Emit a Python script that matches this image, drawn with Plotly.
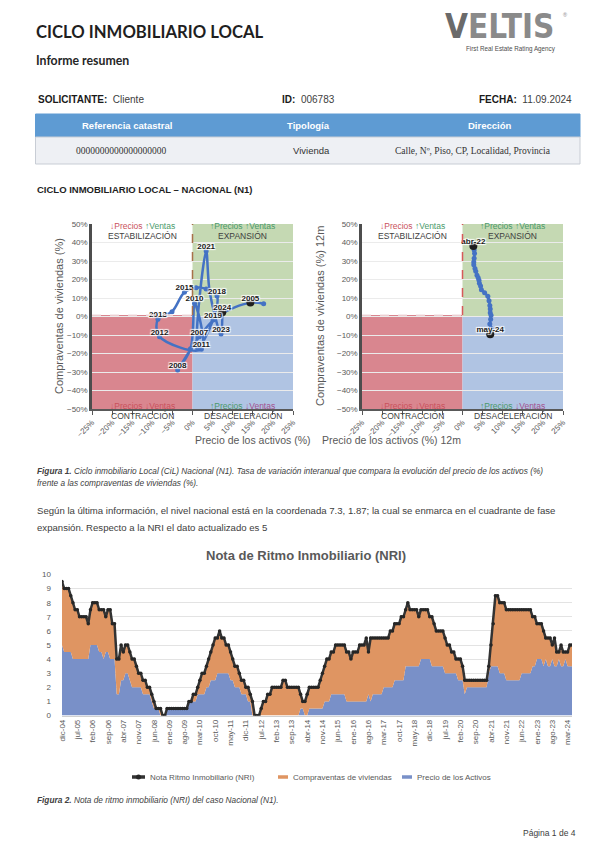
import plotly.graph_objects as go

# page body has an 8px margin: the figure is drawn into the remaining window area
OFF = 8
FW, FH = 600 - OFF, 849 - OFF
def X(px): return (px - OFF) / FW
def Y(py): return 1 - (py - OFF) / FH

FONT = "Liberation Sans"
GRAY = "#595959"
DARK = "#262626"

# ---------------- Figura 1 (izquierda): ciclo anual ----------------
cil_years = [2004, 2005, 2006, 2007, 2008, 2009, 2010, 2011, 2012, 2013, 2014,
             2015, 2016, 2017, 2018, 2019, 2020, 2021, 2022, 2023, 2024]
cil_precio = [17.7, 14.4, 6.5, 1.7, -3.7, -0.5, 0.5, 2.2, -8.2, -8.6, -5.1,
              -2.0, 0.9, 3.4, 6.1, 5.1, 1.3, 3.4, 4.3, 7.1, 7.4]
cil_compra = [6.9, 7.5, 0.5, -10.9, -28.9, -17.5, 7.1, -17.7, -10.9, -1.5, 2.6,
              13.1, 15.6, 14.9, 11.1, -1.9, -17.2, 35.4, 13.0, -9.5, 2.3]
cil_labeled = [2005, 2007, 2008, 2010, 2011, 2012, 2013, 2015, 2018, 2019, 2021, 2023, 2024]
cil_highlight = [2005, 2024]

# ---------------- Figura 1 (derecha): ciclo 12 meses ----------------
m12_labels = ["abr-22", "may-22", "jun-22", "jul-22", "ago-22", "sep-22", "oct-22",
              "nov-22", "dic-22", "ene-23", "feb-23", "mar-23", "abr-23", "may-23",
              "jun-23", "jul-23", "ago-23", "sep-23", "oct-23", "nov-23", "dic-23",
              "ene-24", "feb-24", "mar-24", "abr-24", "may-24"]
m12_precio = [2.7, 2.9, 3.0, 2.9, 2.8, 2.8, 3.1, 3.3, 3.6, 3.9, 4.1, 4.2, 4.5,
              4.7, 5.5, 6.3, 6.6, 6.8, 6.9, 6.9, 7.1, 7.0, 6.8, 7.1, 7.0, 6.9]
m12_compra = [38.1, 36.0, 34.0, 31.5, 29.5, 28.0, 26.0, 24.5, 22.3, 21.0, 19.6, 18.0, 16.5,
              14.5, 12.8, 11.0, 8.5, 6.0, 4.0, 2.0, 0.7, -1.5, -4.0, -6.5, -8.5, -9.6]
m12_labeled = ["abr-22", "may-24"]

# ---------------- Figura 2: NRI mensual (valor, nº de meses) ----------------
nri_total_runs = [(9.5, 1), (9, 3), (8.5, 1), (8, 1), (7.5, 2), (7, 4), (6.5, 1), (7.5, 1),
                  (8, 3), (7.5, 3), (7, 1), (7.5, 2), (6.5, 2), (4, 2), (5, 1), (4.5, 1),
                  (5, 2), (4.5, 1), (4, 2), (3.5, 1), (3, 2), (2.5, 2), (2, 2), (1.5, 1),
                  (1, 1), (0.5, 3), (0, 2), (0.5, 10), (1, 2), (1.5, 2), (2, 1), (2.5, 1),
                  (3, 2), (3.5, 1), (4, 1), (4.5, 1), (5, 1), (5.5, 2), (6, 1), (5.5, 2),
                  (5, 2), (4.5, 1), (4, 1), (3.5, 2), (3, 1), (2.5, 2), (2, 2), (1.5, 1),
                  (1, 1), (0, 3), (0.5, 1), (1, 2), (1.5, 2), (2, 5), (2.5, 2), (2, 6),
                  (1.5, 1), (1, 2), (1.5, 1), (2, 5), (2.5, 1), (3, 1), (3.5, 1), (4, 2),
                  (4.5, 2), (5, 5), (4.5, 2), (4, 1), (4.5, 3), (5, 3), (5.5, 1), (4.5, 1),
                  (5.5, 9), (6, 2), (6.5, 3), (7, 2), (7.5, 1), (8, 1), (7.5, 4), (7, 1),
                  (7.5, 4), (7, 2), (6.5, 1), (6, 4), (5.5, 1), (5, 2), (4.5, 2), (4, 3),
                  (3.5, 1), (2.5, 11), (3.5, 1), (5, 1), (6.5, 1), (8.5, 2), (8, 3),
                  (7.5, 12), (7, 2), (6.5, 3), (6, 1), (5.5, 3), (5, 1), (5.5, 1),
                  (4.5, 2), (5, 1), (4.5, 3), (5, 2)]
nri_precio_runs = [(5, 1), (4.5, 4), (4, 8), (5, 4), (4.5, 2), (4, 1), (4.5, 2), (4, 3),
                   (1.5, 2), (2.5, 2), (3, 2), (2.5, 1), (2, 5), (1.5, 4), (1, 1), (0.5, 3),
                   (0, 3), (0.5, 10), (1, 4), (1.5, 4), (2, 2), (2.5, 3), (3, 6), (2.5, 2),
                   (2, 3), (1.5, 3), (1, 2), (0, 22), (0.5, 2), (0, 2), (0.5, 7), (1, 3),
                   (1.5, 7), (1, 10), (1.5, 1), (1, 1), (1.5, 5), (2, 5), (2.5, 5),
                   (3.5, 7), (4, 5), (3.5, 6), (3, 6), (2.5, 3), (1.5, 1), (2, 10), (3, 1),
                   (3.5, 4), (3, 3), (2.5, 7), (3, 5), (3.5, 2), (4, 3), (3.5, 1), (4, 1),
                   (3.5, 2), (4, 1), (3.5, 2), (4, 1), (3.5, 2), (4, 1), (3.5, 3)]
nri_ticks = ["dic-04", "jul-05", "feb-06", "sep-06", "abr-07", "nov-07", "jun-08", "ene-09",
             "ago-09", "mar-10", "oct-10", "may-11", "dic-11", "jul-12", "feb-13", "sep-13",
             "abr-14", "nov-14", "jun-15", "ene-16", "ago-16", "mar-17", "oct-17", "may-18",
             "dic-18", "jul-19", "feb-20", "sep-20", "abr-21", "nov-21", "jun-22", "ene-23",
             "ago-23", "mar-24"]
MESES = ["ene", "feb", "mar", "abr", "may", "jun", "jul", "ago", "sep", "oct", "nov", "dic"]


def expand(runs):
    out = []
    for v, n in runs:
        out += [v] * n
    return out


nri_total = expand(nri_total_runs)
nri_precio = expand(nri_precio_runs)
nri_months = []
yy, mo = 2004, 11
for _ in nri_total:
    nri_months.append(f"{MESES[mo]}-{yy % 100:02d}")
    mo += 1
    if mo == 12:
        mo, yy = 0, yy + 1

BLUE_LINE = "#4472c4"
C_RED = "#d9868f"
C_GREEN = "#c5d9b3"
C_BLUE = "#b0c4e3"
T_RED = "#c9515c"
T_GREEN = "#4a9a6a"
T_PURP = "#a3508f"
NRI_BLUE = "#7990c8"
NRI_ORANGE = "#df9562"
NRI_LINE = "#333333"

fig = go.Figure()


def quadrant(xs, ys, names, labeled, highlight, xa, ya, spline):
    fig.add_trace(go.Scatter(x=xs, y=ys, mode="lines+markers",
                             line=dict(color=BLUE_LINE, width=2.5,
                                       shape="spline" if spline else "linear"),
                             marker=dict(size=5, color=BLUE_LINE),
                             xaxis=xa, yaxis=ya, showlegend=False, hoverinfo="skip"))
    hx = [x for x, n in zip(xs, names) if n in highlight]
    hy = [y for y, n in zip(ys, names) if n in highlight]
    fig.add_trace(go.Scatter(x=hx, y=hy, mode="markers",
                             marker=dict(size=8, color="#1e1e1e"),
                             xaxis=xa, yaxis=ya, showlegend=False, hoverinfo="skip"))
    fig.add_trace(go.Scatter(x=xs, y=ys, mode="text",
                             text=[str(n) if n in labeled else "" for n in names],
                             textposition="top center",
                             textfont=dict(size=8, color="#1a1a1a", family=FONT, weight="bold",
                                           shadow="1px 1px 1px #fff, -1px -1px 1px #fff, 1px -1px 1px #fff, -1px 1px 1px #fff"),
                             xaxis=xa, yaxis=ya, showlegend=False, hoverinfo="skip"))


quadrant(cil_precio, cil_compra, cil_years, cil_labeled, cil_highlight, "x", "y", True)
quadrant(m12_precio, m12_compra, m12_labels, m12_labeled, [m12_labels[0], m12_labels[-1]], "x2", "y2", False)

shapes = []
annotations = []
for xr, yr, vcol in (("x", "y", "#a8714a"), ("x2", "y2", "#d65a5a")):
    shapes += [
        dict(type="rect", xref=xr, yref=yr, x0=-25, x1=0, y0=-50, y1=0.8, fillcolor=C_RED, line_width=0, layer="below"),
        dict(type="rect", xref=xr, yref=yr, x0=0, x1=25, y0=0, y1=50, fillcolor=C_GREEN, line_width=0, layer="below"),
        dict(type="rect", xref=xr, yref=yr, x0=0, x1=25, y0=-50, y1=0, fillcolor=C_BLUE, line_width=0, layer="below"),
        dict(type="line", xref=xr, yref=yr, x0=-25, x1=0, y0=0.8, y1=0.8, line=dict(color="#f4e6e8", width=1.5, dash="dash")),
        dict(type="line", xref=xr, yref=yr, x0=0, x1=0, y0=0.8, y1=50, line=dict(color=vcol, width=1.5, dash="dash")),
    ]
    annotations += [
        dict(xref=xr, yref="paper", x=-12.5, y=Y(219), showarrow=False, font=dict(size=8.5, family=FONT),
             text=f"<span style='color:{T_RED}'>↓Precios</span> <span style='color:{T_GREEN}'>↑Ventas</span>"),
        dict(xref=xr, yref="paper", x=-12.5, y=Y(229), showarrow=False, font=dict(size=8.5, family=FONT, color="#404040"),
             text="ESTABILIZACIÓN"),
        dict(xref=xr, yref="paper", x=12.5, y=Y(219), showarrow=False, font=dict(size=8.5, family=FONT, color=T_GREEN),
             text="↑Precios ↑Ventas"),
        dict(xref=xr, yref="paper", x=12.5, y=Y(229), showarrow=False, font=dict(size=8.5, family=FONT, color="#404040"),
             text="EXPANSIÓN"),
        dict(xref=xr, yref="paper", x=-12.5, y=Y(406), showarrow=False, font=dict(size=8.5, family=FONT, color=T_RED),
             text="↓Precios ↓Ventas"),
        dict(xref=xr, yref="paper", x=-12.5, y=Y(416), showarrow=False, font=dict(size=8.5, family=FONT, color="#404040"),
             text="CONTRACCIÓN"),
        dict(xref=xr, yref="paper", x=12.5, y=Y(406), showarrow=False, font=dict(size=8.5, family=FONT),
             text=f"<span style='color:{T_GREEN}'>↑Precios</span> <span style='color:{T_PURP}'>↓Ventas</span>"),
        dict(xref=xr, yref="paper", x=12.5, y=Y(416), showarrow=False, font=dict(size=8.5, family=FONT, color="#404040"),
             text="DESACELERACIÓN"),
    ]

# ---------- NRI chart ----------
fig.add_trace(go.Scatter(x=nri_months, y=nri_precio, mode="lines", line=dict(width=0, color=NRI_BLUE),
                         fill="tozeroy", fillcolor=NRI_BLUE, xaxis="x3", yaxis="y3",
                         name="Precio de los Activos", showlegend=False, hoverinfo="skip"))
fig.add_trace(go.Scatter(x=nri_months, y=nri_total, mode="lines", line=dict(width=0, color=NRI_ORANGE),
                         fill="tonexty", fillcolor=NRI_ORANGE, xaxis="x3", yaxis="y3",
                         name="Compraventas de viviendas", showlegend=False, hoverinfo="skip"))
fig.add_trace(go.Scatter(x=nri_months, y=nri_total, mode="lines+markers",
                         line=dict(width=2.5, color=NRI_LINE), marker=dict(size=3.5, color="#262626"),
                         xaxis="x3", yaxis="y3", name="Nota Ritmo Inmobiliario (NRI)",
                         showlegend=False, hoverinfo="skip"))

qx = dict(range=[-25, 25], dtick=5, ticksuffix="%", tickangle=-45, showgrid=False, zeroline=False,
          showline=True, linecolor="#595959", linewidth=1.5, ticks="outside", ticklen=4, tickcolor="#595959",
          tickfont=dict(size=8, color=GRAY, family=FONT), fixedrange=True, automargin=False)
qy = dict(range=[-50, 50], dtick=10, ticksuffix="%", showgrid=True, gridcolor="#ebebeb", gridwidth=1,
          zeroline=False, showline=True, linecolor="#4d4d4d", linewidth=2.5,
          tickfont=dict(size=8, color=GRAY, family=FONT), fixedrange=True, automargin=False)

fig.update_layout(
    width=FW, height=FH, margin=dict(l=0, r=0, t=0, b=0, autoexpand=False),
    paper_bgcolor="white", plot_bgcolor="white",
    font=dict(family=FONT, color=GRAY),
    xaxis=dict(domain=[X(92), X(293)], anchor="y", **qx),
    yaxis=dict(domain=[Y(409), Y(224)], anchor="x", **qy),
    xaxis2=dict(domain=[X(362), X(563)], anchor="y2", **qx),
    yaxis2=dict(domain=[Y(409), Y(224)], anchor="x2", **qy),
    xaxis3=dict(domain=[X(62), X(572)], anchor="y3", type="category", range=[0, len(nri_months) - 1],
                tickmode="array", tickvals=nri_ticks, ticktext=nri_ticks, tickangle=-90,
                showgrid=False, zeroline=False, showline=True, linecolor="#d0d0d0",
                tickfont=dict(size=8, color=GRAY, family=FONT), fixedrange=True, automargin=False),
    yaxis3=dict(domain=[Y(715.5), Y(574.5)], anchor="x3", range=[0, 10], dtick=1, showgrid=True,
                gridcolor="#e3e3e3", zeroline=False, showline=False, ticklabelstandoff=10,
                tickfont=dict(size=8, color=GRAY, family=FONT), fixedrange=True, automargin=False),
    showlegend=False,
)

# ---------- legend of Figura 2 (drawn as page elements) ----------
LEG_Y = 777
legend_items = [("Nota Ritmo Inmobiliario (NRI)", NRI_LINE, 132, 145),
                ("Compraventas de viviendas", NRI_ORANGE, 278, 288),
                ("Precio de los Activos", NRI_BLUE, 402, 412)]
for name, col, a, b in legend_items:
    shapes.append(dict(type="line", xref="paper", yref="paper", x0=X(a), x1=X(b), y0=Y(LEG_Y), y1=Y(LEG_Y),
                       line=dict(color=col, width=3.5)))
    annotations.append(dict(xref="paper", yref="paper", x=X(b + 3), y=Y(LEG_Y), text=name, showarrow=False,
                            xanchor="left", yanchor="middle", font=dict(size=8, color=GRAY, family=FONT)))
shapes.append(dict(type="circle", xref="paper", yref="paper", x0=X(136), x1=X(141),
                   y0=Y(LEG_Y + 2.5), y1=Y(LEG_Y - 2.5), fillcolor="#262626", line_width=0))

# ---------- page header / table ----------
shapes += [
    dict(type="rect", xref="paper", yref="paper", x0=X(35.5), x1=X(580), y0=Y(137), y1=Y(114),
         fillcolor="#5e9bd3", line=dict(color="#5e9bd3", width=1)),
    dict(type="rect", xref="paper", yref="paper", x0=X(35.5), x1=X(580), y0=Y(164), y1=Y(137),
         fillcolor="#eef0f4", line=dict(color="#c8cdd5", width=1)),
]


def txt(x, y, text, size, color=DARK, anchor="left", family=FONT, yanchor="middle"):
    annotations.append(dict(xref="paper", yref="paper", x=X(x), y=Y(y), text=text, showarrow=False,
                            xanchor=anchor, yanchor=yanchor, align=anchor if anchor != "center" else "center",
                            font=dict(size=size, color=color, family=family)))


txt(34, 32, "<b>CICLO INMOBILIARIO LOCAL</b>", 16.7, "#1f1f1f", family="Lato")
txt(34, 60, "<b>Informe resumen</b>", 12.3, "#262626", family="Lato")
txt(443, 27, "<b><span style='color:#6a6a6a'>V</span>ELTIS</b>", 33, "#8a8a8a", family="DejaVu Sans Condensed")
txt(561, 15, "®", 5.5, "#8a8a8a")
txt(558, 49, "First Real Estate Rating Agency", 6.3, "#4d4d4d", anchor="right")

txt(36, 99, "<b>SOLICITANTE:</b>  <span style='color:#404040'>Cliente</span>", 10, "#1a1a1a")
txt(280, 99, "<b>ID:</b>  <span style='color:#404040'>006783</span>", 10, "#1a1a1a")
txt(477, 99, "<b>FECHA:</b>  <span style='color:#404040'>11.09.2024</span>", 10, "#1a1a1a")

txt(127, 125.5, "<b>Referencia catastral</b>", 9.5, "white", anchor="center")
txt(308, 125.5, "<b>Tipología</b>", 9.5, "white", anchor="center")
txt(489, 125.5, "<b>Dirección</b>", 9.5, "white", anchor="center")
txt(121, 150.5, "0000000000000000000", 9.5, "#333333", anchor="center", family="Liberation Serif")
txt(311, 150.5, "Vivienda", 9.5, "#333333", anchor="center")
txt(473, 150.5, "Calle, Nº, Piso, CP, Localidad, Provincia", 9.5, "#333333", anchor="center", family="Liberation Serif")

txt(35, 190, "<b>CICLO INMOBILIARIO LOCAL – NACIONAL (N1)</b>", 9.5, "#1f1f1f")

annotations += [
    dict(xref="paper", yref="paper", x=X(51), y=Y(316), text="Compraventas de viviendas (%)", textangle=-90,
         showarrow=False, font=dict(size=11, color=GRAY, family=FONT)),
    dict(xref="paper", yref="paper", x=X(320), y=Y(316), text="Compraventas de viviendas (%) 12m", textangle=-90,
         showarrow=False, font=dict(size=11, color=GRAY, family=FONT)),
    dict(xref="paper", yref="paper", x=X(193), y=Y(440), text="Precio de los activos (%)",
         showarrow=False, font=dict(size=10.5, color=GRAY, family=FONT)),
    dict(xref="paper", yref="paper", x=X(463), y=Y(440), text="Precio de los activos (%) 12m",
         showarrow=False, font=dict(size=10.5, color=GRAY, family=FONT)),
]

txt(35, 471, "<b><i>Figura 1.</i></b><i> Ciclo inmobiliario Local (CiL) Nacional (N1). Tasa de variación interanual que compara la evolución del precio de los activos (%)</i>", 8.3, "#404040")
txt(35, 483, "<i>frente a las compraventas de viviendas (%).</i>", 8.3, "#404040")
txt(35, 510, "Según la última información, el nivel nacional está en la coordenada 7.3, 1.87; la cual se enmarca en el cuadrante de fase", 9.6, "#404040")
txt(35, 527, "expansión. Respecto a la NRI el dato actualizado es 5", 9.6, "#404040")

txt(306, 555, "<b>Nota de Ritmo Inmobiliario (NRI)</b>", 13, GRAY, anchor="center")

txt(35, 800, "<b><i>Figura 2.</i></b><i> Nota de ritmo inmobiliario (NRI) del caso Nacional (N1).</i>", 8.3, "#404040")
txt(578, 833, "Página 1 de 4", 8.5, "#404040", anchor="right")

fig.update_layout(shapes=shapes, annotations=annotations)
fig.write_html("out.html")
